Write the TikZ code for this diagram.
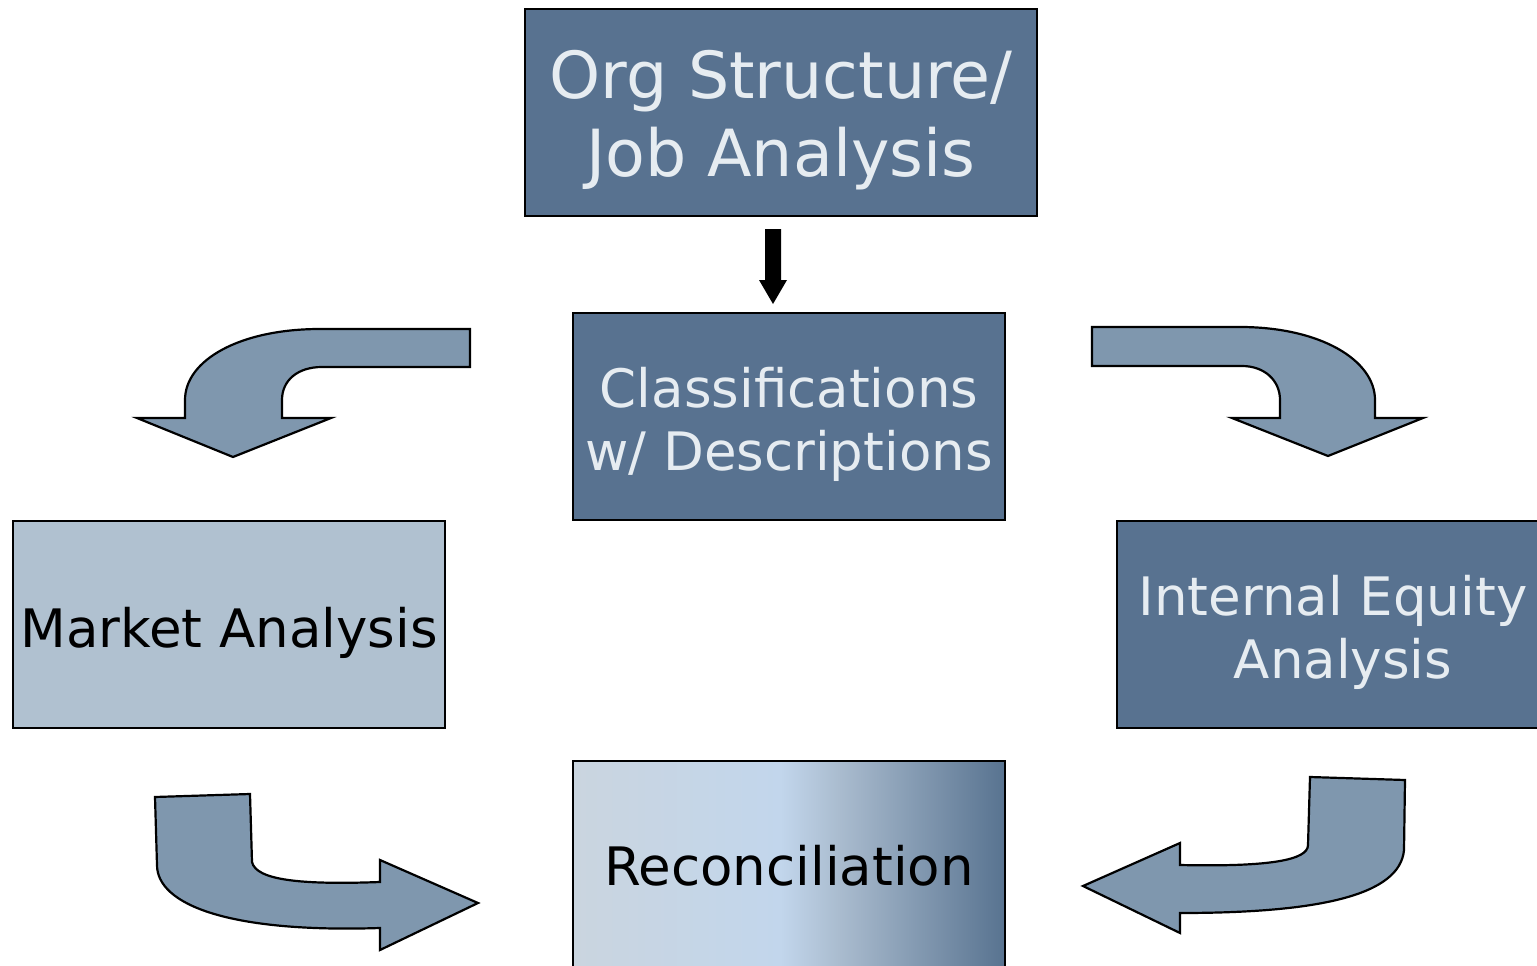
\documentclass[tikz,border=0pt]{standalone}
\usepackage{fontspec}
\setmainfont{DejaVu Sans}
\definecolor{darkbox}{HTML}{587290}
\definecolor{lightbox}{HTML}{B0C1D0}
\definecolor{arrowfill}{HTML}{7F97AE}
\definecolor{lighttext}{HTML}{E6ECF1}
\definecolor{rc1}{HTML}{CAD5DF}
\definecolor{rc2}{HTML}{C2D6EC}
\definecolor{rc3}{HTML}{A9BBCE}
\definecolor{rc4}{HTML}{587390}
\pgfdeclarehorizontalshading{recon}{100bp}{color(0bp)=(rc1); color(25bp)=(rc1); color(49bp)=(rc2); color(56bp)=(rc3); color(75bp)=(rc4); color(100bp)=(rc4)}
\begin{document}
\begin{tikzpicture}[x=1pt,y=-1pt,
  box/.style={draw=black, line width=2pt, minimum width=432pt, minimum height=207pt, inner sep=0pt},
  darkb/.style={box, fill=darkbox},
  lightb/.style={box, fill=lightbox},
  bigtxt/.style={font=\fontsize{65}{78}\selectfont, align=center, inner sep=0pt, yshift=-8pt},
  midtxt/.style={font=\fontsize{53}{63}\selectfont, align=center, inner sep=0pt, yshift=-8pt},
  curvearrow/.style={draw=black, line width=2.2pt, fill=arrowfill, line join=miter}]
\clip (0,0) rectangle (1537,966);
\fill[white] (0,0) rectangle (1537,966);

\node[darkb, minimum width=512pt, label={[bigtxt, text=lighttext]center:Org Structure/\\Job Analysis}] (org) at (781,112.5) {};
\node[darkb, label={[midtxt, text=lighttext]center:Classifications\\w/ Descriptions}] (cls) at (789,416.5) {};
\node[lightb, label={[midtxt, text=black]center:Market Analysis}] (mkt) at (229,624.5) {};
\node[darkb, label={[midtxt, text=lighttext]center:Internal Equity\\\hspace*{20pt}Analysis}] (ieq) at (1333,624.5) {};
\node[box, shading=recon, minimum height=209pt, label={[midtxt, text=black, yshift=8pt]center:Reconciliation}] (rec) at (789,865.5) {};

% black down arrow
\fill[black] (765,229) -- (781,229) -- (781,280) -- (787,280) -- (773,304) -- (759,280) -- (765,280) -- cycle;

% top-left curved arrow
\path[curvearrow] (470,329) -- (320,329) .. controls (240,329) and (185,360) .. (185,400) -- (185,418)
  -- (137,418) -- (233,457) -- (331,418) -- (282,418) -- (282,400)
  .. controls (282,380) and (298,367) .. (322,367) -- (470,367) -- cycle;

% top-right curved arrow
\path[curvearrow] (1092,327) -- (1240,327) .. controls (1320,327) and (1375,360) .. (1375,400) -- (1375,418)
  -- (1423,418) -- (1328,456) -- (1232,418) -- (1280,418) -- (1280,400)
  .. controls (1280,380) and (1264,366) .. (1242,366) -- (1092,366) -- cycle;

% bottom-left curved arrow
\path[curvearrow] (155,797) -- (250,794) -- (252,862)
  .. controls (256,880) and (300,885) .. (380,882) -- (380,860) -- (478,903) -- (380,950) -- (380,928)
  .. controls (230,933) and (157,905) .. (157,865) -- cycle;

% bottom-right curved arrow
\path[curvearrow] (1310,777) -- (1405,780) -- (1404,850)
  .. controls (1400,895) and (1320,913) .. (1180,913) -- (1180,933) -- (1083,886) -- (1180,843) -- (1180,865)
  .. controls (1270,867) and (1308,860) .. (1308,845) -- cycle;
\end{tikzpicture}
\end{document}
